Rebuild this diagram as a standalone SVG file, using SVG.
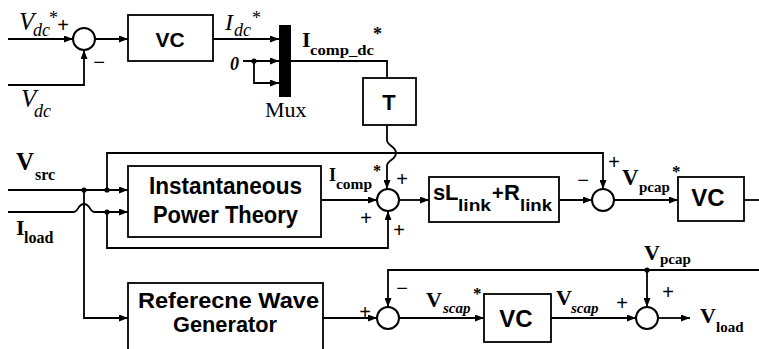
<svg xmlns="http://www.w3.org/2000/svg" width="759" height="349" viewBox="0 0 759 349">
<style>
.ln{fill:none;stroke:#000;stroke-width:1.8}
.bx{fill:#fff;stroke:#000;stroke-width:1.8}
.sum{fill:#fff;stroke:#000;stroke-width:2}
.dot{fill:#000}
.blk{font-family:"Liberation Sans",Arial,sans-serif;font-weight:bold;fill:#000}
.ser{font-family:"Liberation Serif","Times New Roman",serif;fill:#000}
.b{font-weight:bold}
.i{font-style:italic}
.sg{font-family:"Liberation Sans",Arial,sans-serif;font-size:20px;fill:#000;text-anchor:middle}
</style>
<defs>
<marker id="ah" viewBox="0 0 9 7" refX="9" refY="3.5" markerWidth="9" markerHeight="7" markerUnits="userSpaceOnUse" orient="auto"><path d="M0,0 L9,3.5 L0,7 z" fill="#000"/></marker>
</defs>
<rect width="759" height="349" fill="#fff"/>

<g id="connectors">
<path class="ln" d="M8,39 H73" marker-end="url(#ah)"/>
<path class="ln" d="M8,85 H84 V50" marker-end="url(#ah)"/>
<path class="ln" d="M95,39 H128" marker-end="url(#ah)"/>
<path class="ln" d="M213,39 H279" marker-end="url(#ah)"/>
<path class="ln" d="M243,61 H279" marker-end="url(#ah)"/>
<path class="ln" d="M254,61 V83 H279" marker-end="url(#ah)"/>
<path class="ln" d="M291,61 H387 V78"/>
<path class="ln" d="M387,125 V140 C387,146 396,146 396,153 C396,160 387,160 387,166 V189" marker-end="url(#ah)"/>
<path class="ln" d="M8,190 H128" marker-end="url(#ah)"/>
<path class="ln" d="M8,212 H74 C78,212 78,204 84,204 C90,204 90,212 94,212 H128" marker-end="url(#ah)"/>
<path class="ln" d="M84,190 V318 H128" marker-end="url(#ah)"/>
<path class="ln" d="M107,190 V153 H603 V189" marker-end="url(#ah)"/>
<path class="ln" d="M107,212 V248 H388 V211" marker-end="url(#ah)"/>
<path class="ln" d="M321,200 H377" marker-end="url(#ah)"/>
<path class="ln" d="M399,200 H429" marker-end="url(#ah)"/>
<path class="ln" d="M559,200 H592" marker-end="url(#ah)"/>
<path class="ln" d="M614,200 H678" marker-end="url(#ah)"/>
<path class="ln" d="M744,200 H759"/>
<path class="ln" d="M323,318 H377" marker-end="url(#ah)"/>
<path class="ln" d="M399,318 H484" marker-end="url(#ah)"/>
<path class="ln" d="M551,318 H636" marker-end="url(#ah)"/>
<path class="ln" d="M658,318 H690" marker-end="url(#ah)"/>
<path class="ln" d="M759,270 H388 V307" marker-end="url(#ah)"/>
<path class="ln" d="M647,270 V307" marker-end="url(#ah)"/>
<circle class="dot" cx="254" cy="61" r="2.6"/>
<circle class="dot" cx="84" cy="190" r="2.6"/>
<circle class="dot" cx="107" cy="190" r="2.6"/>
<circle class="dot" cx="107" cy="212" r="2.6"/>
<circle class="dot" cx="647" cy="270" r="2.6"/>
</g>

<g id="sum1"><circle class="sum" cx="84" cy="39" r="11"/></g>
<g id="vc1"><rect class="bx" x="128" y="15" width="85" height="46"/><text class="blk" x="170" y="47" font-size="21" text-anchor="middle">VC</text></g>
<g id="mux"><rect x="279" y="25" width="12" height="72" fill="#000"/><text class="ser" x="265" y="117" font-size="22">Mux</text></g>
<g id="t"><rect class="bx" x="363" y="78" width="53" height="47"/><text class="blk" x="389" y="110" font-size="22" text-anchor="middle">T</text></g>
<g id="ipt"><rect class="bx" x="128" y="166" width="193" height="71"/>
<text class="blk" x="149" y="194" font-size="23" textLength="153" lengthAdjust="spacingAndGlyphs">Instantaneous</text>
<text class="blk" x="153" y="223" font-size="23" textLength="145" lengthAdjust="spacingAndGlyphs">Power Theory</text></g>
<g id="sum2"><circle class="sum" cx="388" cy="200" r="11"/></g>
<g id="link"><rect class="bx" x="429" y="177" width="130" height="45"/>
<text class="blk" x="433" y="200" font-size="22">s</text><text class="blk" x="445" y="200" font-size="22">L</text><text class="blk" x="458" y="211" font-size="16" textLength="33" lengthAdjust="spacingAndGlyphs">link</text>
<text class="blk" x="492" y="200" font-size="20">+</text><text class="blk" x="504" y="200" font-size="22">R</text><text class="blk" x="520" y="211" font-size="16" textLength="32" lengthAdjust="spacingAndGlyphs">link</text></g>
<g id="sum3"><circle class="sum" cx="603" cy="200" r="11"/></g>
<g id="vc2"><rect class="bx" x="678" y="177" width="66" height="44"/><text class="blk" x="708" y="206" font-size="24" text-anchor="middle">VC</text></g>
<g id="rwg"><rect class="bx" x="128" y="283" width="195" height="75"/>
<text class="blk" x="138" y="308" font-size="22" textLength="181" lengthAdjust="spacingAndGlyphs">Referecne Wave</text>
<text class="blk" x="173" y="332" font-size="22" textLength="104" lengthAdjust="spacingAndGlyphs">Generator</text></g>
<g id="sum4"><circle class="sum" cx="388" cy="318" r="11"/></g>
<g id="vc3"><rect class="bx" x="484" y="294" width="67" height="48"/><text class="blk" x="516" y="327" font-size="24" text-anchor="middle">VC</text></g>
<g id="sum5"><circle class="sum" cx="647" cy="318" r="11"/></g>

<g id="labels">
<text class="ser i" x="19" y="30" font-size="25">V</text><text class="ser i" x="33" y="36" font-size="18">dc</text><text class="ser" x="49" y="24" font-size="18">*</text>
<text class="ser i" x="21" y="107" font-size="25">V</text><text class="ser i" x="34" y="117" font-size="18">dc</text>
<text class="ser i" x="225" y="30" font-size="24">I</text><text class="ser i" x="234" y="36" font-size="18">dc</text><text class="ser" x="252" y="24" font-size="18">*</text>
<text class="ser i b" x="230" y="70" font-size="18">0</text>
<text class="ser b" x="302" y="47" font-size="22">I</text><text class="ser b" x="310" y="55" font-size="15" textLength="64" lengthAdjust="spacingAndGlyphs">comp_dc</text><text class="ser b" x="373" y="40" font-size="18">*</text>
<text class="ser b" x="16" y="170" font-size="25">V</text><text class="ser b" x="35" y="180" font-size="16">src</text>
<text class="ser b" x="16" y="235" font-size="22">I</text><text class="ser b" x="24" y="243" font-size="16">load</text>
<text class="ser b" x="329" y="181" font-size="18">I</text><text class="ser b" x="336" y="189" font-size="14" textLength="36" lengthAdjust="spacingAndGlyphs">comp</text><text class="ser b" x="373" y="176" font-size="16">*</text>
<text class="ser b" x="622" y="185" font-size="23">V</text><text class="ser b" x="639" y="192" font-size="15">pcap</text><text class="ser b" x="672" y="177" font-size="17">*</text>
<text class="ser b" x="644" y="260" font-size="22">V</text><text class="ser b" x="660" y="264" font-size="15">pcap</text>
<text class="ser b" x="426" y="307" font-size="22">V</text><text class="ser b i" x="443" y="313" font-size="15">scap</text><text class="ser b" x="473" y="299" font-size="17">*</text>
<text class="ser b" x="556" y="305" font-size="22">V</text><text class="ser b i" x="571" y="313" font-size="15">scap</text>
<text class="ser b" x="700" y="323" font-size="22">V</text><text class="ser b" x="716" y="332" font-size="15">load</text>
<text class="sg" x="63" y="32">+</text><text class="sg" x="99" y="69">−</text>
<text class="sg" x="402" y="186">+</text><text class="sg" x="366" y="225">+</text><text class="sg" x="399" y="237">+</text>
<text class="sg" x="583" y="187">−</text><text class="sg" x="614" y="169">+</text>
<text class="sg" x="365" y="319">+</text><text class="sg" x="402" y="295">−</text><text class="sg" x="622" y="310">+</text><text class="sg" x="668" y="299">+</text>
</g>
</svg>
